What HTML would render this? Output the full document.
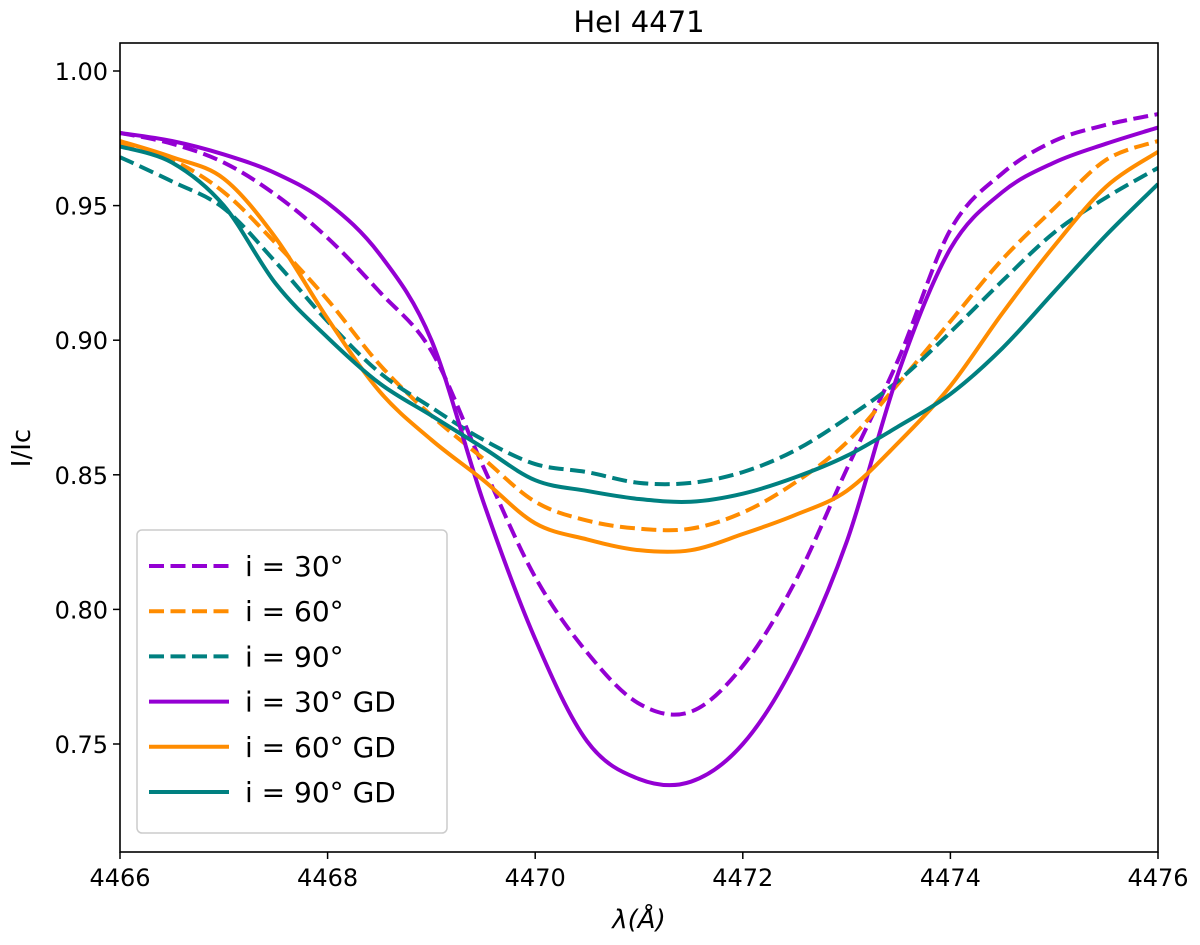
<!DOCTYPE html>
<html><head><meta charset="utf-8"><style>
body{margin:0;background:#fff}
svg text{font-family:"DejaVu Sans","Liberation Sans",sans-serif;fill:#000}
</style></head><body>
<svg id="chart" width="1200" height="940" xmlns="http://www.w3.org/2000/svg">
<text x="639" y="32" font-size="29" text-anchor="middle">HeI 4471</text>
<g id="plot"></g>
<rect x="120" y="43" width="1038" height="809" fill="none" stroke="#000" stroke-width="1.6"/>
<g id="xt"></g>
<g id="yt"></g>
<text x="639" y="928" font-size="26" text-anchor="middle" font-style="italic">λ(Å)</text>
<text transform="translate(30,448) rotate(-90)" font-size="26" text-anchor="middle">I/Ic</text>
<g id="legend"></g>
</svg>
<script>
const wl=[4466,4466.5,4467,4467.5,4468,4468.5,4469,4469.5,4470,4470.5,4471,4471.5,4472,4472.5,4473,4473.5,4474,4474.5,4475,4475.5,4476];
const s30=[0.977,0.973,0.966,0.954,0.938,0.918,0.896,0.853,0.812,0.784,0.765,0.762,0.779,0.810,0.852,0.893,0.941,0.962,0.974,0.980,0.984];
const s60=[0.973,0.967,0.955,0.936,0.915,0.891,0.872,0.856,0.840,0.833,0.830,0.830,0.836,0.847,0.862,0.884,0.907,0.930,0.949,0.967,0.974];
const s90=[0.968,0.959,0.949,0.929,0.907,0.888,0.875,0.863,0.854,0.851,0.847,0.847,0.851,0.859,0.871,0.885,0.903,0.922,0.940,0.953,0.964];
const g30=[0.977,0.974,0.969,0.962,0.951,0.932,0.900,0.840,0.789,0.751,0.737,0.736,0.750,0.780,0.825,0.888,0.934,0.955,0.966,0.973,0.979];
const g60=[0.974,0.968,0.960,0.938,0.908,0.881,0.863,0.848,0.832,0.826,0.822,0.822,0.828,0.835,0.844,0.862,0.883,0.910,0.935,0.957,0.970];
const g90=[0.972,0.966,0.950,0.921,0.901,0.884,0.872,0.860,0.848,0.844,0.841,0.840,0.843,0.849,0.857,0.868,0.880,0.897,0.918,0.939,0.958];
const xTicks=[4466,4468,4470,4472,4474,4476];
const yTicks=[0.75,0.80,0.85,0.90,0.95,1.00];
const labels=["i = 30°","i = 60°","i = 90°","i = 30° GD","i = 60° GD","i = 90° GD"];
const X=v=>120+(v-4466)*103.8, Y=v=>71+(1-v)*2692;
const NS="http://www.w3.org/2000/svg";
function mk(t,a,p){const e=document.createElementNS(NS,t);for(const k in a)e.setAttribute(k,a[k]);p.appendChild(e);return e;}
const series=[[s30,"#9400d3",1],[s60,"#ff8c00",1],[s90,"#008080",1],[g30,"#9400d3",0],[g60,"#ff8c00",0],[g90,"#008080",0]];
const plot=document.getElementById('plot');
const cp=mk('clipPath',{id:'cp'},plot);
mk('rect',{x:120,y:43,width:1038,height:809},cp);
function pathD(vals){const p=wl.map((w,i)=>[X(w),Y(vals[i])]);let d=`M${p[0][0]},${p[0][1]}`;
for(let i=0;i<p.length-1;i++){const a=p[i-1]||p[i],b=p[i],c=p[i+1],e=p[i+2]||c;
d+=` C${b[0]+(c[0]-a[0])/6},${b[1]+(c[1]-a[1])/6} ${c[0]-(e[0]-b[0])/6},${c[1]-(e[1]-b[1])/6} ${c[0]},${c[1]}`;}return d;}
const names=["line-i30","line-i60","line-i90","line-i30-gd","line-i60-gd","line-i90-gd"];
series.forEach((s,i)=>{const el=mk('path',{d:pathD(s[0]),fill:'none',stroke:s[1],'stroke-width':4,'clip-path':'url(#cp)','stroke-dasharray':s[2]?'15,6.5':'none'},plot);

});
const xt=document.getElementById('xt');
xTicks.forEach(v=>{mk('line',{x1:X(v),x2:X(v),y1:852,y2:859,stroke:'#000','stroke-width':1.5},xt);
const t=mk('text',{x:X(v),y:886,'font-size':24,'text-anchor':'middle'},xt);t.textContent=v;

});
const yt=document.getElementById('yt');
yTicks.forEach(v=>{mk('line',{x1:113,x2:120,y1:Y(v),y2:Y(v),stroke:'#000','stroke-width':1.5},yt);
const t=mk('text',{x:108,y:Y(v)+9,'font-size':24,'text-anchor':'end'},yt);t.textContent=v.toFixed(2);

});
const lg=document.getElementById('legend');
mk('rect',{x:137,y:530,width:310,height:303,rx:5,fill:'#fff','fill-opacity':0.8,stroke:'#ccc','stroke-width':1.5},lg);
series.forEach((s,i)=>{const y=566+i*45.2;
const g=mk('g',{},lg);


mk('line',{x1:149,x2:229,y1:y,y2:y,stroke:s[1],'stroke-width':4,'stroke-dasharray':s[2]?'15,6.5':'none'},g);
const t=mk('text',{x:245,y:y+10,'font-size':28},g);t.textContent=labels[i];});
</script>
</body></html>
